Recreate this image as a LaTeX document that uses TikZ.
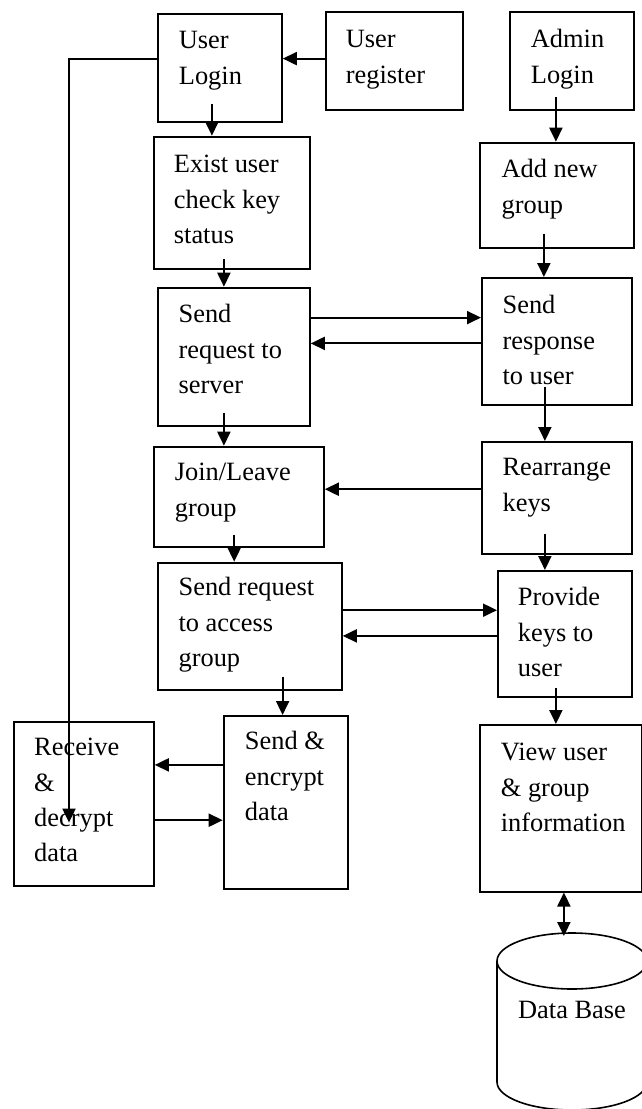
\documentclass[tikz,border=0pt]{standalone}
\usepackage{fontspec}
\setmainfont{Liberation Serif}
\usetikzlibrary{arrows.meta}
\newcommand\flowbox[8]{\node[blk,anchor=north west] (#1) at (#2,#3) {\parbox[c][#5pt][t]{#4pt}{\raggedright\leftskip=#6pt\relax\rule{0pt}{#7pt}#8}};}
\begin{document}
\begin{tikzpicture}[x=1pt,y=-1pt,
 blk/.style={draw,line width=1.8pt,inner sep=0pt,font=\fontsize{26.4}{35.3}\selectfont},
 arr/.style={line width=2pt,-{Triangle[length=14pt,width=13pt]}},
 darr/.style={line width=2pt,{Triangle[length=14pt,width=13pt]}-{Triangle[length=14pt,width=13pt]}},
 cyl/.style={line width=1.6pt}]
\useasboundingbox (0,0) rectangle (642,1109);
% boxes
\flowbox{login}{157}{13}{124}{108}{21}{35}{User\\Login}
\flowbox{reg}{325}{10.7}{136.7}{98.3}{20}{36.3}{User\\register}
\flowbox{admin}{509}{10.7}{124}{98.3}{21}{36.3}{Admin\\Login}
\flowbox{exist}{152.7}{135.7}{156.3}{132.3}{20.3}{36.3}{Exist user\\check key\\status}
\flowbox{addg}{479}{141.7}{154}{105}{21.7}{35.3}{Add new\\group}
\flowbox{sreq}{156.7}{286.7}{152.3}{138.3}{21}{35.3}{Send\\request to\\server}
\flowbox{sresp}{481}{277}{150}{127}{20.7}{36}{Send\\response\\to user}
\flowbox{join}{152.7}{445.7}{170.3}{100.3}{21.3}{34.3}{Join/Leave\\group}
\flowbox{rearr}{481}{441}{150}{111.7}{20.7}{34}{Rearrange\\keys}
\flowbox{sacc}{156.7}{561.7}{184.3}{127.3}{21}{33.3}{Send request\\to access\\group}
\flowbox{prov}{497}{570}{134}{125.7}{20}{35}{Provide\\keys to\\user}
\flowbox{recv}{12.7}{720.7}{140.3}{164.3}{20.6}{34.3}{Receive\\\&\\decrypt\\data}
\flowbox{senc}{222.7}{715}{124.3}{173}{21.3}{34}{Send \&\\encrypt\\data}
\flowbox{view}{479}{724}{162}{166.7}{21}{36}{View user\\\& group\\information}
% database cylinder
\draw[cyl] (497,961) -- (497,1082) arc[start angle=180,end angle=360,x radius=75pt,y radius=28pt] -- (647,961);
\draw[cyl] (572,961) ellipse[x radius=75pt,y radius=28pt];
\node[font=\fontsize{26.4}{35.3}\selectfont,anchor=base,inner sep=0pt] (db) at (572,1018) {Data Base};
\coordinate (dbtop) at (563,936);
% connectors
\coordinate (ca) at ([yshift=2.15pt]reg.west);  \draw[arr] (ca) -- (ca -| login.east);
\coordinate (cb) at ([shift={(-8pt,19pt)}]login.south); \draw[arr] (cb) -- (cb |- exist.north);
\coordinate (cc) at ([yshift=9.3pt]login.west);
\coordinate (recvin) at ([shift={(56.3pt,-18.85pt)}]recv.west);
\draw[arr] (cc) -| (recvin);
\coordinate (cd) at ([shift={(-7.85pt,11pt)}]exist.south); \draw[arr] (cd) -- (cd |- sreq.north);
\coordinate (ce) at ([shift={(-16pt,14pt)}]admin.south); \draw[arr] (ce) -- (ce |- addg.north);
\coordinate (cf) at ([shift={(-13pt,14.7pt)}]addg.south); \draw[arr] (cf) -- (cf |- sresp.north);
\coordinate (cg) at ([yshift=39.15pt]sreq.east); \draw[arr] (cg) -- (cg -| sresp.west);
\coordinate (ch) at ([yshift=-2pt]sresp.west); \draw[arr] (ch) -- (ch -| sreq.east);
\coordinate (ci) at ([shift={(-9.85pt,14.3pt)}]sreq.south); \draw[arr] (ci) -- (ci |- join.north);
\coordinate (cj) at ([shift={(-12pt,19pt)}]sresp.south); \draw[arr] (cj) -- (cj |- rearr.north);
\coordinate (ck) at ([yshift=8.55pt]rearr.west); \draw[arr] (ck) -- (ck -| join.east);
\coordinate (cl) at ([shift={(-4.55pt,13pt)}]join.south); \draw[arr] (cl) -- (cl |- sacc.north);
\coordinate (cm) at ([shift={(-12pt,21pt)}]rearr.south); \draw[arr] (cm) -- (cm |- prov.north);
\coordinate (cn) at ([yshift=16.05pt]sacc.east); \draw[arr] (cn) -- (cn -| prov.west);
\coordinate (co) at ([yshift=-2.15pt]prov.west); \draw[arr] (co) -- (co -| sacc.east);
\coordinate (cp) at ([shift={(32.85pt,14pt)}]sacc.south); \draw[arr] (cp) -- (cp |- senc.north);
\coordinate (cq) at ([shift={(-9pt,9.7pt)}]prov.south); \draw[arr] (cq) -- (cq |- view.north);
\coordinate (cr) at ([yshift=37.5pt]senc.west); \draw[arr] (cr) -- (cr -| recv.east);
\coordinate (cs) at ([yshift=-16.45pt]recv.east); \draw[arr] (cs) -- (cs -| senc.west);
\coordinate (ct) at ([xshift=3pt]view.south); \draw[darr] (ct) -- (ct |- dbtop);
\end{tikzpicture}
\end{document}
